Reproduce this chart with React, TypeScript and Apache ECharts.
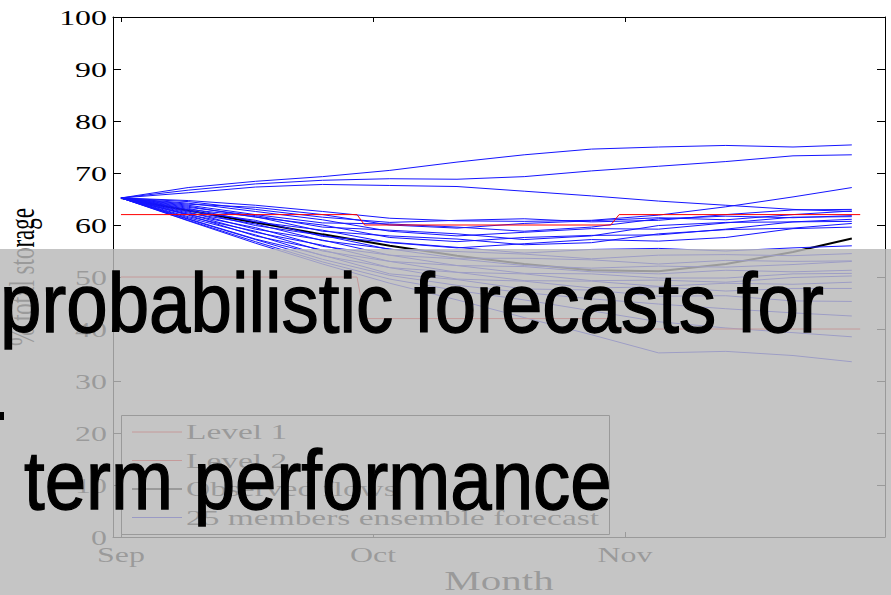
import React, { useEffect, useRef } from 'react';
import * as echarts from 'echarts';

// x values are days counted from 1 September
const days = [0, 8, 16, 24, 32, 40, 48, 56, 64, 72, 80, 87];

const ensemble: number[][] = [
  [65.2, 67.2, 68.4, 69.3, 70.5, 72.1, 73.5, 74.6, 75.0, 75.3, 75.0, 75.4],
  [65.2, 66.7, 67.9, 68.6, 68.9, 68.8, 69.3, 70.4, 71.3, 72.2, 73.3, 73.5],
  [65.2, 66.2, 67.3, 67.8, 67.6, 67.4, 66.5, 65.6, 64.6, 63.8, 63.0, 62.6],
  [65.2, 64.7, 63.8, 62.6, 61.3, 60.8, 60.7, 60.9, 61.9, 63.5, 65.4, 67.2],
  [65.2, 64.5, 63.0, 61.5, 60.5, 60.9, 61.2, 60.6, 60.9, 62.0, 62.9, 63.0],
  [65.2, 64.0, 63.4, 62.0, 60.0, 59.4, 60.3, 60.8, 61.4, 61.0, 62.0, 62.7],
  [65.2, 63.8, 62.0, 60.4, 60.2, 59.6, 58.8, 59.6, 61.2, 61.7, 61.4, 61.8],
  [65.2, 64.2, 62.6, 61.0, 58.8, 57.9, 58.6, 59.3, 59.2, 60.4, 61.5, 61.6],
  [65.2, 63.4, 61.8, 59.6, 59.0, 58.3, 57.2, 57.9, 59.9, 60.5, 60.6, 61.1],
  [65.2, 63.6, 61.5, 60.0, 57.6, 56.8, 57.6, 58.0, 58.1, 59.2, 60.6, 60.7],
  [65.2, 63.0, 61.6, 58.8, 57.9, 57.3, 56.2, 56.6, 58.3, 59.1, 59.4, 60.3],
  [65.2, 63.2, 60.6, 59.0, 56.6, 55.6, 56.4, 57.2, 56.9, 57.6, 59.3, 59.6],
  [65.2, 62.7, 60.9, 57.8, 56.7, 55.7, 54.6, 55.3, 55.5, 55.0, 55.6, 56.0],
  [65.2, 62.9, 59.9, 58.0, 55.3, 54.9, 54.4, 53.5, 54.2, 54.3, 54.1, 54.5],
  [65.2, 62.3, 60.2, 57.0, 55.4, 53.6, 53.6, 53.3, 52.5, 53.2, 53.0, 53.1],
  [65.2, 62.5, 59.2, 57.1, 54.2, 53.5, 52.2, 51.7, 52.1, 51.9, 52.4, 53.0],
  [65.2, 62.0, 59.5, 55.9, 54.2, 52.2, 52.0, 51.0, 50.6, 51.3, 51.0, 51.3],
  [65.2, 62.1, 58.6, 56.1, 53.0, 52.2, 50.7, 50.6, 49.8, 49.8, 50.6, 50.7],
  [65.2, 61.6, 58.8, 55.0, 53.0, 50.9, 50.6, 49.3, 49.4, 49.0, 49.9, 50.2],
  [65.2, 61.9, 57.9, 55.2, 51.8, 50.9, 49.3, 49.2, 48.2, 48.8, 48.6, 49.0],
  [65.2, 61.4, 58.1, 54.1, 51.8, 49.6, 49.2, 47.9, 48.1, 47.3, 47.8, 47.8],
  [65.2, 61.2, 57.3, 54.2, 50.6, 49.5, 47.7, 47.5, 46.3, 46.4, 45.4, 45.3],
  [65.2, 61.1, 57.2, 53.4, 50.3, 48.4, 47.0, 45.8, 44.8, 43.9, 43.1, 42.5],
  [65.2, 60.9, 56.8, 52.9, 49.6, 47.4, 45.6, 43.5, 41.4, 40.2, 39.3, 38.5],
  [65.2, 60.8, 56.5, 52.5, 48.8, 45.6, 42.2, 38.9, 35.4, 35.7, 34.9, 33.7],
];

const observed = [65.2, 62.8, 60.5, 58.2, 56.0, 54.1, 52.5, 51.3, 51.1, 52.5, 54.8, 57.4];

const levelDays = [0, 28.1, 29.0, 58.3, 59.3, 88];
const level1 = [62, 62, 60, 60, 62, 62];
const level2 = [50, 50, 42, 42, 40, 40];

const monthTicks = [0, 30, 60];
const monthLabels = ['Sep', 'Oct', 'Nov'];
const yTicks = [0, 10, 20, 30, 40, 50, 60, 70, 80, 90, 100];

const legendLabels = ['Level 1', 'Level 2', 'Observed flows', '25 members ensemble forecast'];
const legendColors = ['#ff0000', '#ff0000', '#000000', '#0000ff'];
const legendWidths = [1, 1, 2, 1];

const xAxisName = 'Month';
const yAxisName = '% total storage';
const overlayLines = ['probabilistic forecasts for', 'term performance'];

const SERIF = '"Liberation Serif", "Times New Roman", serif';
const SANS = '"Liberation Sans", Arial, sans-serif';
const SX = 1.52;

const X_MIN = -0.95;
const X_MAX = 90.95;

function pairs(xs: number[], ys: number[]) {
  return xs.map((x, i) => [x, ys[i]]);
}

export default function App() {
  const ref = useRef<HTMLDivElement>(null);

  useEffect(() => {
    if (!ref.current) return;
    const chart = echarts.init(ref.current, null, { renderer: 'svg' });

    const xAxisBase = {
      type: 'value',
      min: X_MIN,
      max: X_MAX,
      axisLine: { show: true, onZero: false, lineStyle: { color: '#000', width: 1 } },
      axisTick: { show: true, inside: true, length: 5, customValues: monthTicks, lineStyle: { color: '#000', width: 1 } },
      axisLabel: { show: false },
      splitLine: { show: false },
    };
    const yAxisBase = {
      type: 'value',
      min: 0,
      max: 100,
      interval: 10,
      axisLine: { show: true, onZero: false, lineStyle: { color: '#000', width: 1 } },
      axisTick: { show: true, inside: true, length: 8, lineStyle: { color: '#000', width: 1 } },
      axisLabel: { show: false },
      splitLine: { show: false },
    };

    const series: any[] = [];
    series.push({
      type: 'line', name: 'Observed flows', data: pairs(days, observed), symbol: 'none',
      lineStyle: { color: '#000', width: 2 }, silent: true, z: 2,
    });
    ensemble.forEach((vals, i) => {
      series.push({
        type: 'line', name: 'member ' + (i + 1), data: pairs(days, vals), symbol: 'none',
        lineStyle: { color: '#1515ff', width: 1 }, silent: true, z: 3,
      });
    });
    series.push({
      type: 'line', name: 'Level 1', data: pairs(levelDays, level1), symbol: 'none',
      lineStyle: { color: '#ff0000', width: 1 }, silent: true, z: 4,
    });
    series.push({
      type: 'line', name: 'Level 2', data: pairs(levelDays, level2), symbol: 'none',
      lineStyle: { color: '#ff0000', width: 1 }, silent: true, z: 4,
    });

    chart.setOption({
      animation: false,
      backgroundColor: '#ffffff',
      textStyle: { fontFamily: SERIF },
      grid: { left: 113, right: 6, top: 17, bottom: 58, containLabel: false },
      xAxis: [
        { ...xAxisBase, position: 'bottom' },
        { ...xAxisBase, position: 'top' },
      ],
      yAxis: [
        { ...yAxisBase, position: 'left' },
        { ...yAxisBase, position: 'right' },
      ],
      series,
    });

    const txt = (x: number, y: number, text: string, font: string, align: string, extra: any = {}) => ({
      type: 'text', x, y, z: 5, silent: true, ...extra,
      style: { text, font, fill: '#000', align, textAlign: align, verticalAlign: 'middle', textVerticalAlign: 'middle' },
    });

    const g: any[] = [];
    yTicks.forEach((v) => {
      const py = chart.convertToPixel({ yAxisIndex: 0 }, v) as number;
      g.push(txt(107, py + 1.5, String(v), '21px ' + SERIF, 'right', { scaleX: SX }));
    });
    monthTicks.forEach((v, i) => {
      const px = chart.convertToPixel({ xAxisIndex: 0 }, v) as number;
      g.push(txt(px, 555, monthLabels[i], '21px ' + SERIF, 'center', { scaleX: SX }));
    });
    const xL = chart.convertToPixel({ xAxisIndex: 0 }, X_MIN) as number;
    const xR = chart.convertToPixel({ xAxisIndex: 0 }, X_MAX) as number;
    const yT = chart.convertToPixel({ yAxisIndex: 0 }, 100) as number;
    const yB = chart.convertToPixel({ yAxisIndex: 0 }, 0) as number;
    g.push(txt((xL + xR) / 2, 581, xAxisName, '27px ' + SERIF, 'center', { scaleX: SX }));
    g.push(txt(22, (yT + yB) / 2, yAxisName, '23px ' + SERIF, 'center', { scaleY: SX, rotation: Math.PI / 2 }));

    // legend box
    g.push({
      type: 'rect', z: 5, silent: true,
      shape: { x: 121.5, y: 415.5, width: 488, height: 119 },
      style: { fill: '#ffffff', stroke: '#000', lineWidth: 1 },
    });
    const rows = [432, 460.5, 489, 517.5];
    legendLabels.forEach((label, i) => {
      g.push({
        type: 'line', z: 6, silent: true,
        shape: { x1: 132, y1: rows[i], x2: 182, y2: rows[i] },
        style: { stroke: legendColors[i], lineWidth: legendWidths[i] },
      });
      g.push({ ...txt(186, rows[i], label, '22px ' + SERIF, 'left', { scaleX: SX }), z: 6 });
    });

    // grey overlay
    g.push({
      type: 'rect', z: 50, silent: true,
      shape: { x: 0, y: 249, width: 891, height: 346 },
      style: { fill: 'rgba(185,185,185,0.83)' },
    });
    // big overlay text
    const big = (x: number, y: number, text: string) => ({
      type: 'text', x, y, z: 60, silent: true, scaleY: 1.12,
      style: {
        text, font: '74.5px ' + SANS, fill: '#000', stroke: '#000', lineWidth: 1.2,
        align: 'left', textAlign: 'left', verticalAlign: 'middle', textVerticalAlign: 'middle',
      },
    });
    g.push(big(0, 302.8, overlayLines[0]));
    g.push(big(24, 480.1, overlayLines[1]));
    // cut-off fragment at the left edge between the two lines
    g.push({ type: 'rect', z: 60, silent: true, shape: { x: 0, y: 412, width: 4, height: 8 }, style: { fill: '#000' } });

    chart.setOption({ graphic: { elements: g } });

    return () => chart.dispose();
  }, []);

  return (
    <div
      ref={ref}
      style={{ position: 'fixed', left: 0, top: 0, width: 891, height: 595, background: '#fff' }}
    />
  );
}
